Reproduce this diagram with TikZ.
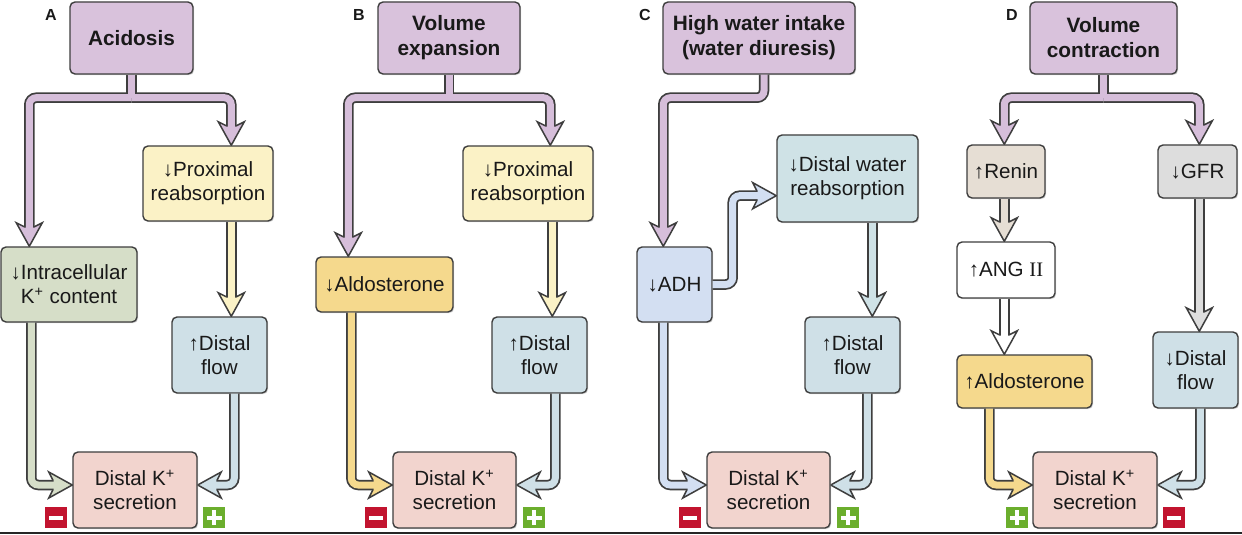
\documentclass[tikz,border=0pt]{standalone}
\usepackage{fontspec}
\setmainfont{Liberation Sans}
\newfontfamily\serifII{Liberation Serif}
\usetikzlibrary{calc,shadows}
\pgfdeclarelayer{bg}
\pgfdeclarelayer{dk}
\pgfdeclarelayer{hdl}
\pgfsetlayers{bg,dk,hdl,main}

\definecolor{purp}{HTML}{D9C2DC}
\definecolor{purpA}{HTML}{D6BEDA}
\definecolor{yel}{HTML}{FBF2C6}
\definecolor{grn}{HTML}{D6DEC8}
\definecolor{blu}{HTML}{CFE0E7}
\definecolor{dksc}{HTML}{F2D4CE}
\definecolor{gold}{HTML}{F5D98D}
\definecolor{adhc}{HTML}{D3DFF2}
\definecolor{dwrc}{HTML}{CFE2E6}
\definecolor{renc}{HTML}{E6DED4}
\definecolor{gfrc}{HTML}{DDDDDD}
\definecolor{minusc}{HTML}{C2142F}
\definecolor{plusc}{HTML}{6BAE2D}
\definecolor{outl}{HTML}{3E3E3E}

\newcommand\dn{↓}
\newcommand\up{↑}

\tikzset{
  box/.style={draw=outl, line width=0.7pt, rounded corners=2.5pt, inner sep=0pt,
    align=center, text=black!90, font=\fontsize{10.3}{12}\selectfont,
    drop shadow={shadow xshift=0.6pt, shadow yshift=-0.6pt, fill=black!30}},
  titlebox/.style={box, font=\bfseries\fontsize{10.4}{12.5}\selectfont},
  panellab/.style={font=\bfseries\fontsize{8}{9}\selectfont, inner sep=0pt, text=black!90},
  dkline/.style={line width=5.25pt, draw=outl, rounded corners=3.5pt},
  inline/.style={line width=3.5pt, rounded corners=3.5pt},
}

% box from pixel corners: #1 options, #2 name, #3 x1, #4 y1, #5 x2, #6 y2, #7 text
\newcommand\bx[7]{%
  \node[#1, minimum width={(#5-#3)*0.5pt}, minimum height={(#6-#4)*0.5pt}]
    (#2) at ({(#3+#5)/2},{(#4+#6)/2}) {#7};}
% arrow shaft with head gap
\newcommand\fatarr[2]{%
  \begin{pgfonlayer}{dk}\draw[dkline, shorten >=9.75pt] #2;\end{pgfonlayer}
  \draw[inline, draw=#1, shorten >=8.5pt] #2;}
% plain shaft segment
\newcommand\fatseg[2]{%
  \begin{pgfonlayer}{dk}\draw[dkline] #2;\end{pgfonlayer}
  \draw[inline, draw=#1] #2;}
% arrow head: tip at coordinate #1, rotation #2, colour #3
\newcommand\hd[3]{%
  \begin{pgfonlayer}{hdl}
  \begin{scope}[shift={(#1)}, rotate=#2]
    \filldraw[fill=#3, draw=outl, line width=0.75pt, line join=miter]
      (0,0) -- (-13,-23.5) -- (-5,-19.5) -- (5,-19.5) -- (13,-23.5) -- cycle;
  \end{scope}
  \end{pgfonlayer}}
\newcommand\minussq[2]{%
  \fill[minusc] (#1,#2) rectangle ++(22,21);
  \fill[white] ($(#1,#2)+(4,8.5)$) rectangle ++(14,4.5);}
\newcommand\plussq[2]{%
  \fill[plusc] (#1,#2) rectangle ++(22,21);
  \fill[white] ($(#1,#2)+(3.5,8.5)$) rectangle ++(15,4.5);
  \fill[white] ($(#1,#2)+(8.75,3)$) rectangle ++(4.5,15);}

\begin{document}
\begin{tikzpicture}[x=0.5pt, y=-0.5pt]
\begin{pgfonlayer}{bg}
\fill[white] (0,0) rectangle (1242,535);
\end{pgfonlayer}
\useasboundingbox (0,0) rectangle (1242,535);
\draw[line width=1pt, black!85] (0,533) -- (1242,533);

% ---------------- Panel A ----------------
\node[panellab] (labA) at (51,15) {A};
\bx{titlebox, fill=purp}{acid}{70}{2}{193}{74}{Acidosis}
\bx{box, fill=yel}{proxA}{143}{146}{273}{221}{\dn Proximal\\reabsorption}
\bx{box, fill=grn}{intra}{1}{247}{137}{322}{\dn Intracellular\\K\textsuperscript{+} content}
\bx{box, fill=blu}{dfA}{172}{317}{267}{393}{\up Distal\\flow}
\bx{box, fill=dksc}{dksA}{73}{452}{197}{528}{Distal K\textsuperscript{+}\\secretion}

\coordinate (Aj) at ($(acid.south)+(0,23)$);
\coordinate (A1) at ($(intra.north west)+(29,0)$);
\coordinate (A2) at ($(proxA.north west)+(89,0)$);
\coordinate (A3) at ($(proxA.south west)+(89,0)$);
\coordinate (A4) at (A3 |- dfA.north);
\coordinate (A5) at ($(intra.south west)+(31,0)$);
\coordinate (A6) at ($(dksA.west)+(0,-5)$);
\coordinate (A7) at ($(dfA.south west)+(63,0)$);
\coordinate (A8) at ($(dksA.east)+(0,-5)$);
\fatseg{purpA}{(acid.south) -- (Aj)}
\fatarr{purpA}{(Aj) -| (A1)} \hd{A1}{0}{purpA}
\fatarr{purpA}{(Aj) -| (A2)} \hd{A2}{0}{purpA}
\fatarr{yel}{(A3) -- (A4)} \hd{A4}{0}{yel}
\fatarr{grn}{(A5) |- (A6)} \hd{A6}{90}{grn}
\fatarr{blu}{(A7) |- (A8)} \hd{A8}{-90}{blu}
\minussq{45}{507}
\plussq{203}{507}

% ---------------- Panel B ----------------
\node[panellab] (labB) at (359,15) {B};
\bx{titlebox, fill=purp}{vexp}{378}{2}{520}{74}{Volume\\expansion}
\bx{box, fill=yel}{proxB}{463}{146}{593}{221}{\dn Proximal\\reabsorption}
\bx{box, fill=gold}{aldoB}{316}{257}{453}{312}{\dn Aldosterone}
\bx{box, fill=blu}{dfB}{492}{317}{587}{393}{\up Distal\\flow}
\bx{box, fill=dksc}{dksB}{393}{452}{516}{528}{Distal K\textsuperscript{+}\\secretion}

\coordinate (Bj) at ($(vexp.south)+(0,23)$);
\coordinate (B1) at ($(aldoB.north west)+(33,0)$);
\coordinate (B2) at ($(proxB.north west)+(88,0)$);
\coordinate (B3) at ($(proxB.south west)+(90,0)$);
\coordinate (B4) at (B3 |- dfB.north);
\coordinate (B5) at ($(aldoB.south west)+(36,0)$);
\coordinate (B6) at ($(dksB.west)+(0,-5)$);
\coordinate (B7) at ($(dfB.south west)+(64,0)$);
\coordinate (B8) at ($(dksB.east)+(0,-5)$);
\fatseg{purpA}{(vexp.south) -- (Bj)}
\fatarr{purpA}{(Bj) -| (B1)} \hd{B1}{0}{purpA}
\fatarr{purpA}{(Bj) -| (B2)} \hd{B2}{0}{purpA}
\fatarr{yel}{(B3) -- (B4)} \hd{B4}{0}{yel}
\fatarr{gold}{(B5) |- (B6)} \hd{B6}{90}{gold}
\fatarr{blu}{(B7) |- (B8)} \hd{B8}{-90}{blu}
\minussq{365}{507}
\plussq{523}{507}

% ---------------- Panel C ----------------
\node[panellab] (labC) at (645,15) {C};
\bx{titlebox, fill=purp}{hw}{663}{2}{855}{74}{High water intake\\(water diuresis)}
\bx{box, fill=adhc}{adh}{637}{247}{712}{322}{\dn ADH}
\bx{box, fill=dwrc}{dwr}{777}{135}{918}{222}{\dn Distal water\\reabsorption}
\bx{box, fill=blu}{dfC}{805}{317}{900}{393}{\up Distal\\flow}
\bx{box, fill=dksc}{dksC}{707}{452}{830}{528}{Distal K\textsuperscript{+}\\secretion}

\coordinate (C0) at ($(hw.south)+(5,0)$);
\coordinate (C1) at ($(adh.north west)+(27,0)$);
\coordinate (C2) at ($(dwr.south west)+(0,-27)$);
\coordinate (C3) at ($(dwr.south west)+(96,0)$);
\coordinate (C4) at (C3 |- dfC.north);
\coordinate (C5) at ($(adh.south west)+(27,0)$);
\coordinate (C6) at ($(dksC.west)+(0,-5)$);
\coordinate (C7) at ($(dfC.south west)+(63,0)$);
\coordinate (C8) at ($(dksC.east)+(0,-5)$);
\fatarr{purpA}{(C0) -- ++(0,23) -| (C1)} \hd{C1}{0}{purpA}
\fatarr{adhc}{(adh.east) -- ++(20,0) |- (C2)} \hd{C2}{90}{adhc}
\fatarr{dwrc}{(C3) -- (C4)} \hd{C4}{0}{dwrc}
\fatarr{adhc}{(C5) |- (C6)} \hd{C6}{90}{adhc}
\fatarr{blu}{(C7) |- (C8)} \hd{C8}{-90}{blu}
\minussq{679}{507}
\plussq{837}{507}

% ---------------- Panel D ----------------
\node[panellab] (labD) at (1012,15) {D};
\bx{titlebox, fill=purp}{vc}{1030}{2}{1177}{74}{Volume\\contraction}
\bx{box, fill=renc}{renin}{967}{145}{1045}{198}{\up Renin}
\bx{box, fill=gfrc}{gfr}{1158}{145}{1237}{198}{\dn GFR}
\bx{box, fill=white}{ang}{957}{242}{1055}{298}{\up ANG {\serifII II}}
\bx{box, fill=gold}{aldoD}{957}{355}{1092}{408}{\up Aldosterone}
\bx{box, fill=blu}{dfD}{1153}{332}{1238}{408}{\dn Distal\\flow}
\bx{box, fill=dksc}{dksD}{1033}{452}{1157}{528}{Distal K\textsuperscript{+}\\secretion}

\coordinate (Dj) at ($(vc.south)+(0,23)$);
\coordinate (D1) at ($(renin.north west)+(38,0)$);
\coordinate (D2) at ($(gfr.north west)+(42,0)$);
\coordinate (Dr) at ($(renin.south west)+(38,0)$);
\coordinate (Dr2) at (Dr |- ang.north);
\coordinate (Da) at (Dr |- ang.south);
\coordinate (Da2) at (Dr |- aldoD.north);
\coordinate (D3) at ($(gfr.south west)+(42,0)$);
\coordinate (D4) at (D3 |- dfD.north);
\coordinate (D5) at ($(aldoD.south west)+(33,0)$);
\coordinate (D6) at ($(dksD.west)+(0,-5)$);
\coordinate (D7) at ($(dfD.south west)+(48,0)$);
\coordinate (D8) at ($(dksD.east)+(0,-5)$);
\fatseg{purpA}{(vc.south) -- (Dj)}
\fatarr{purpA}{(Dj) -| (D1)} \hd{D1}{0}{purpA}
\fatarr{purpA}{(Dj) -| (D2)} \hd{D2}{0}{purpA}
\fatarr{renc}{(Dr) -- (Dr2)} \hd{Dr2}{0}{renc}
\fatarr{white}{(Da) -- (Da2)} \hd{Da2}{0}{white}
\fatarr{gfrc}{(D3) -- (D4)} \hd{D4}{0}{gfrc}
\fatarr{gold}{(D5) |- (D6)} \hd{D6}{90}{gold}
\fatarr{blu}{(D7) |- (D8)} \hd{D8}{-90}{blu}
\plussq{1006}{507}
\minussq{1163}{507}
\end{tikzpicture}
\end{document}
